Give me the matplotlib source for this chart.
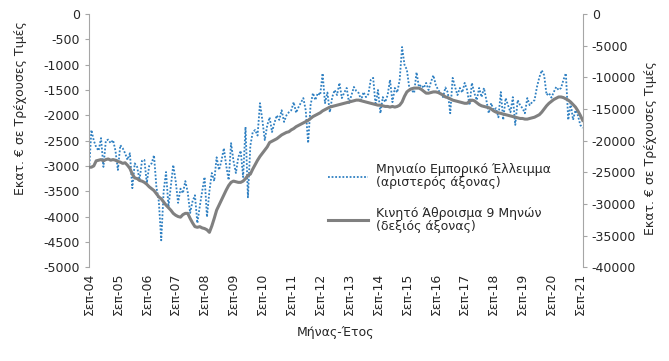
import matplotlib
matplotlib.use("Agg")
import matplotlib.pyplot as plt

plt.rcParams['font.family'] = ['DejaVu Sans']
plt.rcParams['axes.unicode_minus'] = False

# Monthly trade deficit (left axis, million €), Sep-04 .. Oct-21
monthly_deficit = [
    -3120, -2290, -2500, -2630, -2700, -2450, -3020, -2500, -2480, -2550, -2490, -2700,
    -3080, -2590, -2650, -2750, -2880, -2750, -3440, -2950, -3020, -3280, -2900, -2880,
    -3340, -3000, -2950, -2790, -3420, -3700, -4470, -3500, -3120, -3810, -3400, -2980,
    -3300, -3730, -3450, -3540, -3300, -3520, -3930, -3700, -3580, -4130, -3800, -3500,
    -3220, -4010, -3500, -3140, -3300, -2830, -3080, -2900, -2650, -3000, -3280, -2550,
    -2900, -3140, -2830, -2700, -3220, -2230, -3620, -2600, -2330, -2290, -2400, -1760,
    -2100, -2490, -2200, -2040, -2330, -2150, -2000, -2090, -1900, -2130, -2000, -1940,
    -1900, -1740, -1950, -1840, -1750, -1660, -1900, -2550, -1800, -1560, -1700, -1560,
    -1600, -1170, -1760, -1550, -1940, -1640, -1500, -1600, -1360, -1660, -1550, -1460,
    -1760, -1600, -1440, -1520, -1560, -1700, -1540, -1640, -1580, -1300, -1260, -1800,
    -1500, -1960, -1640, -1740, -1600, -1300, -1740, -1460, -1550, -1300, -650, -1000,
    -1100, -1460, -1500, -1560, -1150, -1440, -1400, -1460, -1360, -1500, -1340, -1210,
    -1400, -1500, -1560, -1640, -1450, -1550, -1960, -1260, -1440, -1600, -1460, -1550,
    -1360, -1500, -1800, -1360, -1560, -1700, -1460, -1640, -1460, -1700, -1960, -1760,
    -1900, -1860, -2040, -1540, -2090, -1660, -1800, -1940, -1640, -2190, -1700, -1800,
    -1860, -1960, -1660, -1800, -1740, -1700, -1440, -1250, -1110, -1210, -1600, -1560,
    -1650, -1540, -1440, -1500, -1460, -1300, -1170, -2090, -1760, -2090, -1900, -2000,
    -2190, -2250,
]

# 9-month rolling sum (right axis, million €)
rolling_9m = [
    -24200, -24200, -24000, -23200, -23100, -23000, -23200, -23000, -22900, -23100, -23000, -23100,
    -23300, -23400, -23600, -23500, -23900, -24400, -25300, -25900, -26000, -26300, -26400, -26600,
    -26900, -27300, -27600, -27900, -28400, -28900, -29200, -29700, -30200, -30600, -31000, -31500,
    -31800, -32000, -32100, -31700, -31500, -31500, -32300, -33000, -33600, -33700, -33600, -33800,
    -33900, -34100, -34500, -33500, -32300, -31000, -30200, -29400, -28600, -27800, -27100, -26600,
    -26400, -26500, -26600, -26600, -26400, -26000, -25500, -25300, -24500, -23800, -23100, -22500,
    -22000, -21500, -21000, -20300, -20100, -19900, -19700, -19400, -19100, -18900, -18700, -18600,
    -18300, -18100, -17800, -17600, -17400, -17200, -17000, -16800, -16500, -16200, -16000, -15800,
    -15600, -15300, -15100, -14900, -14700, -14600, -14500, -14400, -14300, -14200, -14100, -14000,
    -13900, -13800, -13700, -13600, -13600, -13700, -13800, -13900, -14000, -14100, -14200, -14300,
    -14400, -14400, -14500, -14600, -14600, -14700, -14600, -14700, -14600, -14400, -13900, -13000,
    -12300, -12000, -11800, -11700, -11700, -11700, -11900, -12200, -12500, -12500, -12400, -12300,
    -12300, -12400, -12600, -12800, -13100, -13200, -13400, -13600, -13700, -13800, -13900, -14000,
    -14100, -14100, -13800, -13600, -13700, -14000, -14300, -14500, -14600, -14700, -14800, -15000,
    -15300, -15500, -15600, -15700, -15800, -15900, -16000, -16100, -16200, -16300, -16400, -16500,
    -16500, -16600, -16600, -16500, -16400, -16300, -16100, -15900, -15500, -15000, -14500, -14100,
    -13800, -13500, -13300, -13100, -13100, -13200, -13400, -13600, -13900, -14300, -14700, -15300,
    -16000, -16800,
]

tick_labels = ["Σεπ-04", "Σεπ-05", "Σεπ-06", "Σεπ-07", "Σεπ-08", "Σεπ-09", "Σεπ-10",
               "Σεπ-11", "Σεπ-12", "Σεπ-13", "Σεπ-14", "Σεπ-15", "Σεπ-16", "Σεπ-17",
               "Σεπ-18", "Σεπ-19", "Σεπ-20", "Σεπ-21"]

label_monthly = "Μηνιαίο Εμπορικό Έλλειμμα\n(αριστερός άξονας)"
label_rolling = "Κινητό Άθροισμα 9 Μηνών\n(δεξιός άξονας)"
y_label = "Εκατ. € σε Τρέχουσες Τιμές"
x_label = "Μήνας-Έτος"

months = list(range(len(monthly_deficit)))

fig = plt.figure(figsize=(6.69, 3.61), dpi=100)
ax = fig.add_axes([0.133, 0.260, 0.738, 0.701])
ax2 = ax.twinx()

blue = "#2F80C2"
grey = "#808080"
spine_c = "#A6A6A6"
text_c = "#262626"

l1, = ax.plot(months, monthly_deficit, color=blue, linestyle=(0, (1, 1)), linewidth=1.3,
              label=label_monthly)
l2, = ax2.plot(months, rolling_9m, color=grey, linestyle="-", linewidth=2.2,
               label=label_rolling)

ax.set_xlim(0, len(months) - 1)
ax.set_ylim(-5000, 0)
ax2.set_ylim(-40000, 0)
ax.set_yticks(list(range(-5000, 1, 500)))
ax2.set_yticks(list(range(-40000, 1, 5000)))
ax.set_xticks(list(range(0, len(months), 12)))
ax.set_xticklabels(tick_labels, rotation=90)

for a in (ax, ax2):
    a.spines['top'].set_visible(False)
    a.spines['bottom'].set_visible(False)
    a.spines['left'].set_color(spine_c)
    a.spines['right'].set_color(spine_c)
    a.tick_params(axis='y', colors=spine_c, length=3, labelsize=9, labelcolor=text_c)
    a.patch.set_visible(False)
ax.spines['right'].set_visible(False)
ax2.spines['left'].set_visible(False)
ax.tick_params(axis='x', length=0, labelsize=9, labelcolor=text_c, pad=4)

fig.text(0.030, 0.70, y_label, rotation=90, ha='center', va='center', fontsize=9, color=text_c)
fig.text(0.973, 0.59, y_label, rotation=90, ha='center', va='center', fontsize=9, color=text_c)
fig.text(0.502, 0.080, x_label, ha='center', va='center', fontsize=9, color=text_c)

leg = ax2.legend(handles=[l1, l2], loc='upper left', bbox_to_anchor=(0.475, 0.43),
                 frameon=False, fontsize=9, handlelength=3.2, labelspacing=1.4,
                 handletextpad=0.6, borderaxespad=0)
for t in leg.get_texts():
    t.set_color(text_c)
    t.set_linespacing(1.0)

fig.savefig("out.png", dpi=100)
